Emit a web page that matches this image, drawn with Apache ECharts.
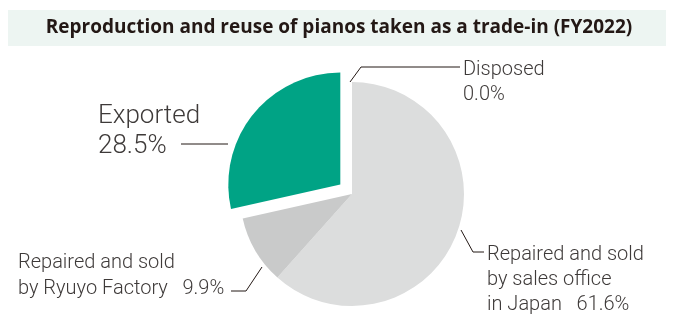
<!DOCTYPE html>
<html>
<head>
<meta charset="utf-8">
<script src="https://cdn.jsdelivr.net/npm/echarts@6/dist/echarts.min.js"></script>
<style>
    html, body { margin: 0; padding: 0; background: #fff; }
    #chart { width: 674px; height: 320px; }
</style>
</head>
<body>
<div id="chart"></div>
<script>
let titleText = "Reproduction and reuse of pianos taken as a trade-in (FY2022)";
let categories = ["Disposed", "Repaired and sold\nby sales office\nin Japan", "Repaired and sold\nby Ryuyo Factory", "Exported"];
let shares = [0.0, 61.6, 9.9, 28.5];
let colors = ["#dcdddd", "#dcdddd", "#c9caca", "#00a385"];
let pulledOut = 3;

// where each label sits and how its leader line runs
let labelPlaces = [
    {x: 463, y: 57, line: [[350, 82], [361, 67], [460, 67]]},
    {x: 487, y: 242, line: [[461, 230], [473, 252], [484, 252]]},
    {x: 18, y: 250, line: [[262, 267], [246, 291], [231, 291]]},
    {x: 98, y: 101, line: [[181, 144], [204, 144], [228, 144]]}
];

let pieCenter = [352, 194];
let pieRadius = 112;
let pullDistance = 15;

function labelText(i) {
    let pct = shares[i].toFixed(1) + "%";
    if (i === 1 || i === 2) {
        return categories[i] + "   " + pct;
    }
    return categories[i] + "\n" + pct;
}

// centre of the pulled-out slice, moved along its middle angle
function pulledCenter() {
    let total = shares.reduce((a, b) => a + b, 0);
    let before = shares.slice(0, pulledOut).reduce((a, b) => a + b, 0);
    let mid = (before + shares[pulledOut] / 2) / total * 2 * Math.PI;
    return [pieCenter[0] + pullDistance * Math.sin(mid), pieCenter[1] - pullDistance * Math.cos(mid)];
}

function layoutLabel(params) {
    let p = labelPlaces[params.dataIndex];
    return {
        x: p.x,
        y: p.y,
        align: "left",
        verticalAlign: "top",
        labelLinePoints: p.line
    };
}

function pieSeries(center, showPulled) {
    return {
        type: "pie",
        center: center,
        radius: pieRadius,
        startAngle: 90,
        clockwise: true,
        avoidLabelOverlap: false,
        emphasis: {disabled: true},
        label: {
            show: true,
            position: "outside",
            color: "#3e3a39",
            fontFamily: "Roboto",
            fontWeight: 300,
            fontSize: 20,
            lineHeight: 25
        },
        labelLine: {
            show: true,
            lineStyle: {color: "#231815", width: 1}
        },
        labelLayout: layoutLabel,
        data: shares.map(function (v, i) {
            let visible = (i === pulledOut) === showPulled;
            let item = {
                name: categories[i],
                value: v,
                itemStyle: {color: visible ? colors[i] : "rgba(0,0,0,0)"},
                label: {show: visible, formatter: labelText(i)},
                labelLine: {show: visible}
            };
            if (i === 2) {
                item.label.lineHeight = 26;
            }
            if (i === pulledOut) {
                item.label.fontSize = 26;
                item.label.lineHeight = 30;
            }
            return item;
        })
    };
}

let chart = echarts.init(document.getElementById("chart"));
let option = {
    animation: false,
    graphic: [
        {
            type: "rect",
            shape: {x: 8, y: 10, width: 658, height: 36},
            style: {fill: "#edf5f2"},
            z: 0
        },
        {
            type: "text",
            x: 339,
            y: 28,
            style: {
                text: titleText,
                fill: "#231815",
                font: "bold 19px 'Open Sans'",
                align: "center",
                verticalAlign: "middle"
            },
            z: 1
        }
    ],
    series: [
        pieSeries(pieCenter, false),
        pieSeries(pulledCenter(), true)
    ]
};
chart.setOption(option);
</script>
</body>
</html>
